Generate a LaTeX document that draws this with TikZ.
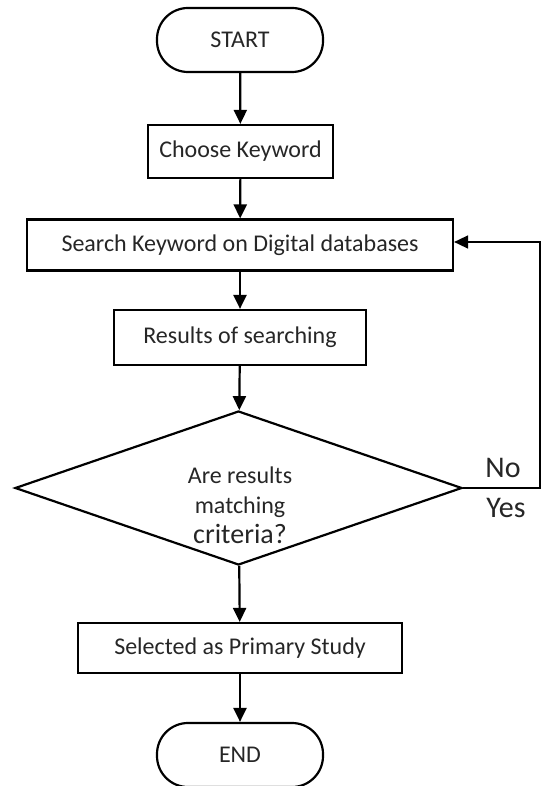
\documentclass[tikz,border=0pt]{standalone}
\usepackage{fontspec}
\setmainfont{Carlito}
\usetikzlibrary{shapes.geometric,arrows.meta}
\begin{document}
\begin{tikzpicture}[x=1pt,y=-1pt,
  box/.style={draw=black,line width=2.2pt,rectangle,inner sep=0pt,font=\fontsize{24}{28}\selectfont,text=black!85},
  term/.style={box,rounded corners=31pt},
  arr/.style={line width=2.2pt,-{Triangle[length=14pt,width=13pt]}},
  dtxt/.style={anchor=base,inner sep=0pt,text=black!85,font=\fontsize{24}{28}\selectfont},
  lbl/.style={font=\fontsize{30}{34}\selectfont,text=black!85}]
\useasboundingbox (0,0) rectangle (541,786);
\node[term,minimum width=166pt,minimum height=64pt] (start) at (240,40) {START};
\node[box,minimum width=185pt,minimum height=53pt] (choose) at (240.5,151.5) {Choose Keyword};
\node[box,minimum width=426pt,minimum height=51pt] (search) at (240,245) {Search Keyword on Digital databases};
\node[box,minimum width=252pt,minimum height=55pt] (results) at (240,337.5) {Results of searching};
\node[diamond,draw=black,line width=2.2pt,inner sep=0pt,minimum width=447pt,minimum height=154pt] (dec) at (238.5,488) {};
\node[dtxt] (d1) at (240,483) {Are results};
\node[dtxt] (d2) at (240,513) {matching};
\node[dtxt,font=\fontsize{28}{30}\selectfont] (d3) at (240,543) {criteria?};
\node[box,minimum width=324pt,minimum height=50pt] (sel) at (240,648) {Selected as Primary Study};
\node[term,minimum width=166pt,minimum height=64pt] (end) at (240,755) {END};
\coordinate (c1) at (540,488);
\coordinate (c2) at (540,242);
\node[lbl] (no) at (503,468) {No};
\node[lbl] (yes) at (506,508) {Yes};
\draw[arr] (start) -- (choose);
\draw[arr] (choose) -- (search);
\draw[arr] (search) -- (results);
\draw[arr] (results) -- (dec);
\draw[arr] (dec) -- (sel);
\draw[arr] (sel) -- (end);
\draw[line width=1.6pt,-{Triangle[length=14pt,width=13pt]}] (dec.east) -- (c1) -- (c2) -- (search.east |- c2);
\end{tikzpicture}
\end{document}
